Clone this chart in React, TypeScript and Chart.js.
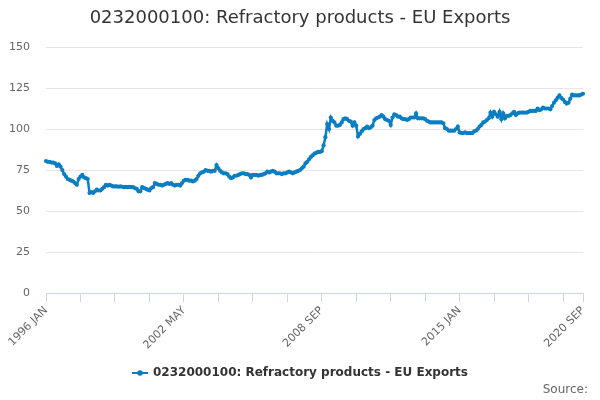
import { useEffect, useRef } from "react";
import Chart from "chart.js/auto";

// Texts
const TITLE = "0232000100: Refractory products - EU Exports";
const SERIES_NAME = "0232000100: Refractory products - EU Exports";
const SOURCE = "Source:";

// Categories: monthly, 1996 JAN .. 2020 SEP
const FIRST_YEAR = 1996;
const MONTHS = ["JAN", "FEB", "MAR", "APR", "MAY", "JUN", "JUL", "AUG", "SEP", "OCT", "NOV", "DEC"];

// Values, one array per year
const v1996 = [80.5, 80, 80, 79.5, 79.5, 79, 77.5, 78.5, 77, 75, 72.5, 71];
const v1997 = [69.5, 69, 68.5, 68, 67, 66, 69.5, 71, 72, 70.5, 70, 69.5];
const v1998 = [61, 61.5, 61, 62, 63, 62.5, 62.5, 63.5, 64.5, 66, 65.5, 66];
const v1999 = [65.5, 65, 65, 65, 64.8, 65, 64.8, 64.5, 64.8, 64.5, 64.8, 64.5];
const v2000 = [64.5, 64, 63.5, 62, 62, 64.5, 64, 63.5, 63, 62.5, 64, 64.5];
const v2001 = [67, 66.5, 66, 66, 65.5, 66, 66.5, 67, 66.5, 67, 66, 65.5];
const v2002 = [66, 66, 65.5, 67, 68.5, 69, 69, 68.5, 68.5, 68, 68.5, 69.5];
const v2003 = [71.5, 73, 73.5, 74, 75, 74.5, 74.5, 74, 74.5, 74.5, 78, 76];
const v2004 = [74.5, 73.5, 73, 73, 72.5, 71, 70, 70.5, 71.5, 71.5, 72, 72.5];
const v2005 = [73, 73, 72.5, 72.5, 72, 70.5, 72, 72, 72, 71.5, 72, 72];
const v2006 = [72.5, 73, 74, 73.5, 74, 74.5, 74, 73, 73, 73, 72.5, 73];
const v2007 = [73, 73.5, 74, 73.5, 73, 73.5, 74, 74.5, 75, 76, 77, 79];
const v2008 = [80, 81.5, 83, 84, 85, 85.5, 86, 86, 86.5, 90, 95, 103];
const v2009 = [100, 107, 105, 104, 102, 102, 102.5, 104, 106, 106.5, 106, 105];
const v2010 = [104.5, 102, 104, 102, 95.5, 97, 98.5, 100, 100.5, 101.5, 100.5, 101];
const v2011 = [102, 105.5, 106.5, 107, 107.5, 108.5, 107.5, 106, 105.5, 105, 102.5, 107];
const v2012 = [109, 108.5, 107.5, 107.5, 106.5, 106, 106, 105.5, 106, 107, 107, 107];
const v2013 = [109.5, 106.5, 106.5, 106.5, 106.5, 106, 105, 104.5, 104, 104, 104, 104];
const v2014 = [104, 104, 104, 103.5, 100.5, 100, 99, 99, 99, 99, 100, 101.5];
const v2015 = [98, 97.5, 97.5, 98, 97.5, 97.5, 97.5, 97.5, 98.5, 99, 100, 101.5];
const v2016 = [102.5, 104, 104.5, 105.5, 106.5, 110, 107.5, 110.5, 109, 107.5, 110.5, 106];
const v2017 = [109.5, 106.5, 108, 108, 108.5, 109.5, 110.5, 108.5, 109.5, 110, 110, 110];
const v2018 = [110, 110, 110.5, 111, 111, 111, 111, 112.5, 111.5, 112, 113, 112.5];
const v2019 = [112.5, 112.5, 112, 114, 116, 117.5, 119, 120.5, 119, 118, 116.5, 115.5];
const v2020 = [116, 118.5, 121, 120.5, 120.5, 120.5, 120.5, 121, 121.5];

const VALUES = [
  ...v1996, ...v1997, ...v1998, ...v1999, ...v2000, ...v2001, ...v2002, ...v2003,
  ...v2004, ...v2005, ...v2006, ...v2007, ...v2008, ...v2009, ...v2010, ...v2011,
  ...v2012, ...v2013, ...v2014, ...v2015, ...v2016, ...v2017, ...v2018, ...v2019,
  ...v2020,
];

const LABELS = VALUES.map((_, i) => `${FIRST_YEAR + Math.floor(i / 12)} ${MONTHS[i % 12]}`);

// Tick marks every 19 months, labels every 76 months, plus the last month
const TICK_STEP = 19;
const LABEL_STEP = 76;
const Y_TICKS = [0, 25, 50, 75, 100, 125, 150];

const LINE_COLOR = "#0a7ec2";
const FONT = '"DejaVu Sans", Verdana, sans-serif';

// Title, legend and credits drawn straight on the canvas
const decorations = {
  id: "decorations",
  afterDraw(chart: Chart) {
    const { ctx, width, height } = chart;
    ctx.save();

    ctx.fillStyle = "#333333";
    ctx.font = `18px ${FONT}`;
    ctx.textAlign = "center";
    ctx.textBaseline = "middle";
    ctx.fillText(TITLE, width / 2, 18);

    // legend item: line + marker, then bold name
    ctx.font = `bold 12px ${FONT}`;
    const tw = ctx.measureText(SERIES_NAME).width;
    const symW = 16;
    const gap = 5;
    const x0 = width / 2 - (symW + gap + tw) / 2;
    const ly = 373;
    ctx.strokeStyle = LINE_COLOR;
    ctx.lineWidth = 2;
    ctx.beginPath();
    ctx.moveTo(x0, ly);
    ctx.lineTo(x0 + symW, ly);
    ctx.stroke();
    ctx.fillStyle = LINE_COLOR;
    ctx.beginPath();
    ctx.arc(x0 + symW / 2, ly, 2.8, 0, Math.PI * 2);
    ctx.fill();
    ctx.fillStyle = "#333333";
    ctx.textAlign = "left";
    ctx.fillText(SERIES_NAME, x0 + symW + gap, ly);

    ctx.font = `12px ${FONT}`;
    ctx.fillStyle = "#666666";
    ctx.textAlign = "right";
    ctx.fillText(SOURCE, width - 12, height - 10);

    ctx.restore();
  },
};

function ExportsChart() {
  const canvasRef = useRef<HTMLCanvasElement>(null);

  useEffect(() => {
    if (!canvasRef.current) return;
    document.body.style.margin = "0";

    const chart = new Chart(canvasRef.current, {
      type: "line",
      data: {
        labels: LABELS,
        datasets: [
          {
            label: SERIES_NAME,
            data: VALUES,
            borderColor: LINE_COLOR,
            backgroundColor: LINE_COLOR,
            borderWidth: 2.5,
            pointRadius: 2.1,
            pointBorderWidth: 0,
            pointBackgroundColor: LINE_COLOR,
            tension: 0,
          },
        ],
      },
      options: {
        animation: false,
        responsive: true,
        maintainAspectRatio: false,
        layout: { padding: { top: 47, right: 17, bottom: 47, left: 0 } },
        plugins: {
          legend: { display: false },
          title: { display: false },
          tooltip: { enabled: false },
        },
        scales: {
          x: {
            type: "category",
            offset: false,
            afterBuildTicks: (scale) => {
              const ticks = [];
              for (let i = 0; i < VALUES.length; i += TICK_STEP) ticks.push({ value: i });
              ticks.push({ value: VALUES.length - 1 });
              scale.ticks = ticks;
            },
            afterFit: (scale) => {
              scale.height = 60;
            },
            ticks: {
              autoSkip: false,
              maxRotation: 45,
              minRotation: 45,
              padding: 2,
              color: "#666666",
              font: { family: FONT, size: 11 },
              callback: (value) => {
                const v = Number(value);
                return v % LABEL_STEP === 0 || v === VALUES.length - 1 ? LABELS[v] : "";
              },
            },
            grid: {
              drawOnChartArea: false,
              drawTicks: true,
              tickLength: 9,
              color: "#ccd6eb",
            },
            border: { display: true, color: "#ccd6eb", width: 1 },
          },
          y: {
            min: 0,
            max: 150,
            afterBuildTicks: (scale) => {
              scale.ticks = Y_TICKS.map((v) => ({ value: v }));
            },
            afterFit: (scale) => {
              scale.width = 46;
            },
            ticks: {
              padding: 16,
              color: "#666666",
              font: { family: FONT, size: 11 },
            },
            grid: { color: "#e6e6e6", drawTicks: false },
            border: { display: false },
          },
        },
      },
      plugins: [decorations],
    });

    return () => chart.destroy();
  }, []);

  return (
    <div style={{ width: 600, height: 400, position: "relative", background: "#ffffff" }}>
      <canvas ref={canvasRef} />
    </div>
  );
}

export default function App() {
  return <ExportsChart />;
}
